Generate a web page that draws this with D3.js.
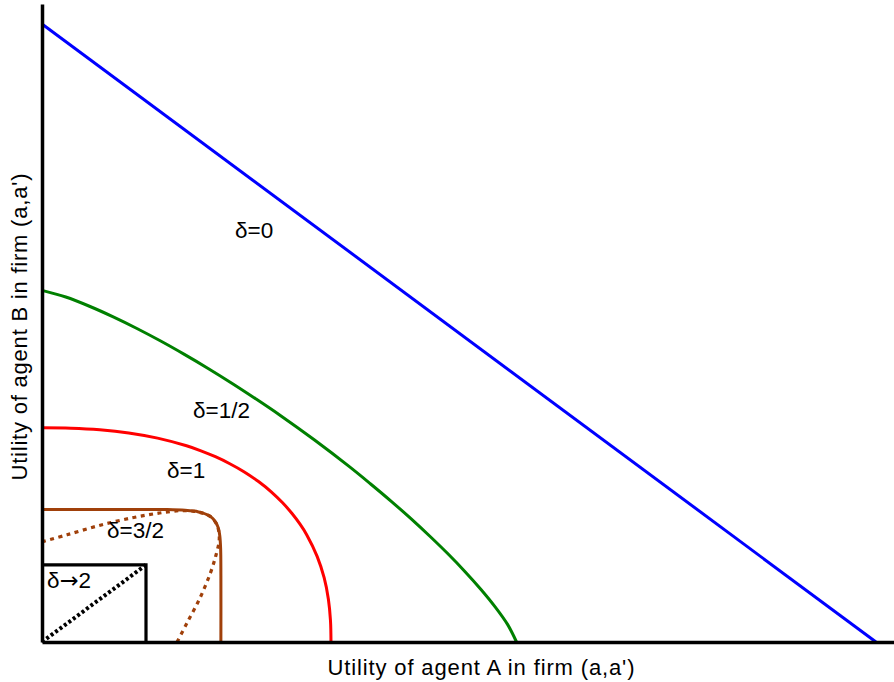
<!DOCTYPE html>
<html>
<head>
<meta charset="utf-8">
<script src="https://cdn.jsdelivr.net/npm/d3@7"></script>
<style>
  body { margin: 0; background: #fff; }
  text { font-family: "Liberation Sans", Arial, sans-serif; }
</style>
</head>
<body>
<div id="chart"></div>
<script>
// frontier curves, in utility units
const blueX = [0, 1];
const blueY = [1, 0];

const greenX = [0, 0.0285, 0.0569, 0.0854, 0.1138, 0.1423, 0.1707, 0.1992, 0.2276, 0.2561, 0.2845,
  0.3268, 0.3678, 0.3937, 0.4188, 0.4427, 0.4654, 0.487, 0.5073, 0.5261, 0.5433, 0.5582, 0.569];
const greenY = [0.569, 0.5582, 0.5433, 0.5261, 0.5073, 0.487, 0.4654, 0.4427, 0.4188, 0.3937, 0.3678,
  0.3268, 0.2845, 0.2561, 0.2276, 0.1992, 0.1707, 0.1423, 0.1138, 0.0854, 0.0569, 0.0285, 0];

const redX = [0, 0.0347, 0.0693, 0.104, 0.1386, 0.1733, 0.1906, 0.2079, 0.2252, 0.2426, 0.2596,
  0.2752, 0.2885, 0.2998, 0.3094, 0.3175, 0.3299, 0.3383, 0.3434, 0.3459, 0.3465];
const redY = [0.3465, 0.3459, 0.3434, 0.3383, 0.3299, 0.3175, 0.3094, 0.2998, 0.2885, 0.2752, 0.2596,
  0.2426, 0.2252, 0.2079, 0.1906, 0.1733, 0.1386, 0.104, 0.0693, 0.0347, 0];

const brownX = [0, 0.1073, 0.1502, 0.1716, 0.1823, 0.1877, 0.1931, 0.1984, 0.2025,
  0.2058, 0.2086, 0.2105, 0.2118, 0.2132, 0.2142, 0.2145, 0.2145];
const brownY = [0.2145, 0.2145, 0.2142, 0.2132, 0.2118, 0.2105, 0.2086, 0.2058, 0.2025,
  0.1984, 0.1931, 0.1877, 0.1823, 0.1716, 0.1502, 0.1073, 0];

const brownDotX = [0, 0.03, 0.07, 0.11, 0.14, 0.165, 0.1823, 0.1931, 0.2025, 0.2083, 0.2115, 0.2125,
  0.2085, 0.2015, 0.189, 0.1735, 0.162];
const brownDotY = [0.162, 0.1735, 0.189, 0.2015, 0.2085, 0.2125, 0.2115, 0.2083, 0.2025, 0.1931, 0.1823, 0.165,
  0.14, 0.11, 0.07, 0.03, 0];

const blackX = [0, 0.1247, 0.1247];
const blackY = [0.1247, 0.1247, 0];

const blackDotX = [0, 0.1247];
const blackDotY = [0, 0.1247];

const labelText = ['δ=0', 'δ=1/2', 'δ=1', 'δ=3/2', 'δ→2'];
const labelX = [0.2314, 0.1811, 0.1499, 0.0779, 0.006];
const labelY = [0.6537, 0.3625, 0.2654, 0.1683, 0.0874];

const xTitle = "Utility of agent A in firm (a,a')";
const yTitle = "Utility of agent B in firm (a,a')";

const width = 894, height = 682;

const x = d3.scaleLinear().domain([0, 852 / 834]).range([42, 894]);
const y = d3.scaleLinear().domain([0, 638 / 618]).range([642, 4]);

const svg = d3.select('#chart')
  .append('svg')
  .attr('width', width)
  .attr('height', height);

const zip = (xs, ys) => xs.map((v, i) => [v, ys[i]]);

const smooth = d3.line().x(d => x(d[0])).y(d => y(d[1])).curve(d3.curveCatmullRom.alpha(0.5));
const straight = d3.line().x(d => x(d[0])).y(d => y(d[1]));

const series = [
  {pts: zip(blackX, blackY), line: straight, color: '#000', w: 3.2, dash: null},
  {pts: zip(blackDotX, blackDotY), line: straight, color: '#000', w: 4, dash: '3,2.5'},
  {pts: zip(brownDotX, brownDotY), line: smooth, color: '#a0400a', w: 3.2, dash: '4,4.5'},
  {pts: zip(brownX, brownY), line: smooth, color: '#a0400a', w: 3, dash: null},
  {pts: zip(redX, redY), line: smooth, color: '#ff0000', w: 3, dash: null},
  {pts: zip(greenX, greenY), line: smooth, color: '#008000', w: 3, dash: null},
  {pts: zip(blueX, blueY), line: straight, color: '#0000ff', w: 3, dash: null}
];

svg.append('g')
  .selectAll('path')
  .data(series)
  .enter().append('path')
  .attr('d', d => d.line(d.pts))
  .attr('fill', 'none')
  .attr('stroke', d => d.color)
  .attr('stroke-width', d => d.w)
  .attr('stroke-dasharray', d => d.dash);

// axes: bare lines, no ticks
function axisStyle(g) {
  g.select('.domain').attr('stroke', '#000').attr('stroke-width', 3.5);
  g.selectAll('.tick').remove();
}

svg.append('g')
  .attr('transform', 'translate(0,' + y(0) + ')')
  .call(d3.axisBottom(x).ticks(0).tickSizeOuter(0))
  .call(axisStyle);

svg.append('g')
  .attr('transform', 'translate(' + x(0) + ',0)')
  .call(d3.axisLeft(y).ticks(0).tickSizeOuter(0))
  .call(axisStyle);

// curve labels; the arrow comes from DejaVu, which draws it wider
const labels = svg.append('g')
  .selectAll('text')
  .data(labelText)
  .enter().append('text')
  .attr('x', (d, i) => x(labelX[i]))
  .attr('y', (d, i) => y(labelY[i]))
  .attr('font-size', 22.5)
  .attr('fill', '#000');

labels.selectAll('tspan')
  .data(d => Array.from(d))
  .enter().append('tspan')
  .attr('font-family', c => c === '→' ? 'DejaVu Sans' : null)
  .text(c => c);

svg.append('text')
  .attr('x', 481)
  .attr('y', 675)
  .attr('text-anchor', 'middle')
  .attr('font-size', 22)
  .attr('textLength', 307)
  .attr('lengthAdjust', 'spacing')
  .text(xTitle);

svg.append('text')
  .attr('transform', 'translate(27,327) rotate(-90)')
  .attr('text-anchor', 'middle')
  .attr('font-size', 22)
  .attr('textLength', 307)
  .attr('lengthAdjust', 'spacing')
  .text(yTitle);
</script>
</body>
</html>
